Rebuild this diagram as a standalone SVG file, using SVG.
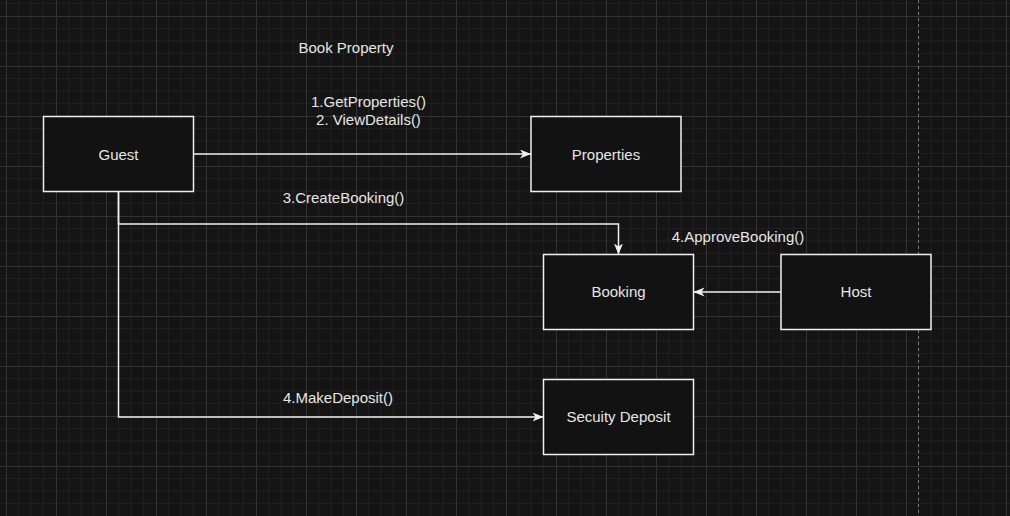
<svg xmlns="http://www.w3.org/2000/svg" width="1010" height="516" viewBox="0 0 1010 516">
<style>
  .node rect { fill: #121212; stroke: #f0f0f0; stroke-width: 1.5; }
  text { font-family: "Liberation Sans", Arial, sans-serif; font-size: 15px; fill: #e6e6e6; text-anchor: middle; }
  .edge { fill: none; stroke: #f0f0f0; stroke-width: 1.5; }
</style>
<defs>
  <pattern id="grid" x="6" y="16" width="50" height="50" patternUnits="userSpaceOnUse">
    <path d="M12.5,0 V50 M25,0 V50 M37.5,0 V50 M0,12.5 H50 M0,25 H50 M0,37.5 H50" stroke="#1f1f1f" stroke-width="1" fill="none"/>
    <path d="M0.5,0 V50 M0,0.5 H50" stroke="#323232" stroke-width="1" fill="none"/>
  </pattern>
  <marker id="arrow" markerUnits="userSpaceOnUse" markerWidth="12" markerHeight="10" refX="11" refY="4.5" orient="auto">
    <path d="M0,0 L11,4.5 L0,9 L3,4.5 Z" fill="#f0f0f0"/>
  </marker>
</defs>
<rect x="0" y="0" width="1010" height="516" fill="#141414"/>
<rect x="0" y="0" width="1010" height="516" fill="url(#grid)"/>
<line x1="918.5" y1="0" x2="918.5" y2="516" stroke="#7a7a7a" stroke-width="1" stroke-dasharray="3 3"/>

<text x="346" y="53">Book Property</text>

<g id="connectors">
  <path class="edge" d="M193.5,154 H531" marker-end="url(#arrow)"/>
  <path class="edge" d="M118.5,191.5 V224 H618.5 V254.5" marker-end="url(#arrow)"/>
  <path class="edge" d="M781,292 H693.5" marker-end="url(#arrow)"/>
  <path class="edge" d="M118.5,191.5 V417 H543.5" marker-end="url(#arrow)"/>
  <text x="368.5" y="107">1.GetProperties()</text>
  <text x="368.5" y="125">2. ViewDetails()</text>
  <text x="343.5" y="203">3.CreateBooking()</text>
  <text x="738" y="242">4.ApproveBooking()</text>
  <text x="338" y="403">4.MakeDeposit()</text>
</g>

<g id="guest" class="node">
  <rect x="43.5" y="116.5" width="150" height="75"/>
  <text x="118.5" y="160">Guest</text>
</g>
<g id="properties" class="node">
  <rect x="531" y="116.5" width="150" height="75"/>
  <text x="606" y="160">Properties</text>
</g>
<g id="booking" class="node">
  <rect x="543.5" y="254.5" width="150" height="75"/>
  <text x="618.5" y="297">Booking</text>
</g>
<g id="host" class="node">
  <rect x="781" y="254.5" width="150" height="75"/>
  <text x="856" y="297">Host</text>
</g>
<g id="deposit" class="node">
  <rect x="543.5" y="379.5" width="150" height="75"/>
  <text x="618.5" y="422">Secuity Deposit</text>
</g>
</svg>
